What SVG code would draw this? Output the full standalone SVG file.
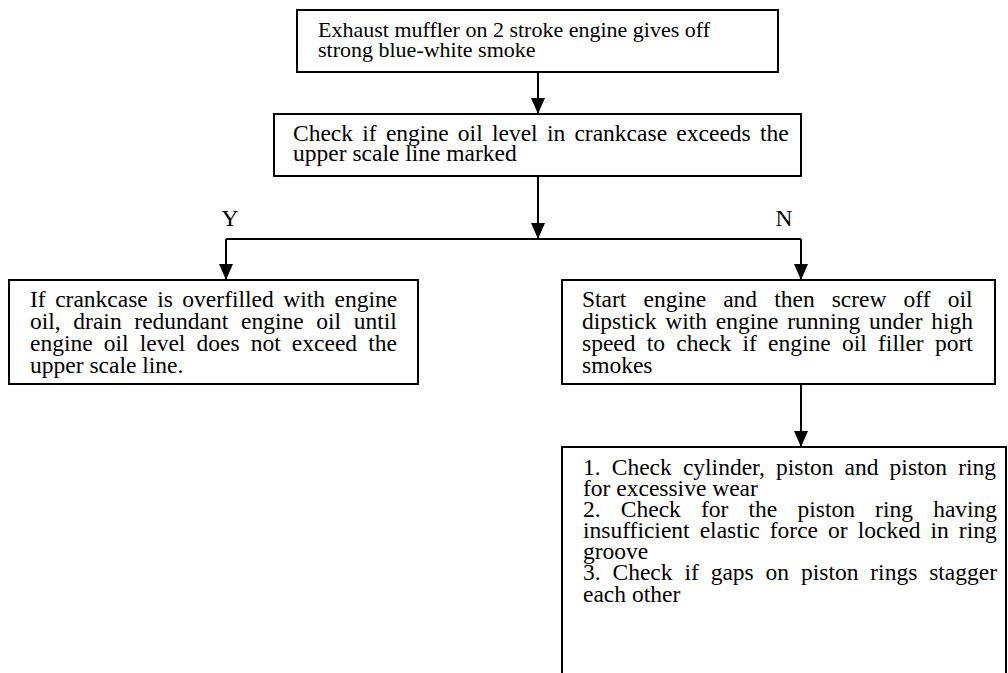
<svg xmlns="http://www.w3.org/2000/svg" width="1008" height="673" viewBox="0 0 1008 673">
<defs>
<marker id="arr" markerUnits="userSpaceOnUse" markerWidth="16" markerHeight="14" viewBox="0 0 16 14" refX="16" refY="7" orient="auto">
<path d="M0,0 L16,7 L0,14 Z" fill="#000"/>
</marker>
<style>
.box{fill:#fff;stroke:#000;stroke-width:2}
.t{font-family:"Liberation Serif","Times New Roman",serif;font-size:23.5px;fill:#000}
.c{stroke:#000;stroke-width:2;fill:none}
</style>
</defs>
<rect width="1008" height="673" fill="#fff"/>
<g id="connectors">
<path class="c" d="M538,72 V114" marker-end="url(#arr)"/>
<path class="c" d="M538,176 V239" marker-end="url(#arr)"/>
<path class="c" d="M226,239 H801"/>
<path class="c" d="M226,239 V280" marker-end="url(#arr)"/>
<path class="c" d="M801,239 V280" marker-end="url(#arr)"/>
<path class="c" d="M801,384 V447" marker-end="url(#arr)"/>
<text class="t" x="230" y="226" text-anchor="middle">Y</text>
<text class="t" x="784" y="226" text-anchor="middle">N</text>
</g>
<g id="n1">
<rect class="box" x="297" y="10" width="481" height="62"/>
<text class="t" style="font-size:22px"><tspan x="318" y="37">Exhaust muffler on 2 stroke engine gives off</tspan><tspan x="318" y="57">strong blue-white smoke</tspan></text>
</g>
<g id="n2">
<rect class="box" x="274" y="114" width="527" height="62"/>
<text class="t"><tspan x="293" y="141" word-spacing="3.4">Check if engine oil level in crankcase exceeds the</tspan><tspan x="293" y="161">upper scale line marked</tspan></text>
</g>
<g id="n3">
<rect class="box" x="9" y="280" width="409" height="104"/>
<text class="t"><tspan x="30" y="307" word-spacing="3.6">If crankcase is overfilled with engine</tspan><tspan x="30" y="329" word-spacing="6.8">oil, drain redundant engine oil until</tspan><tspan x="30" y="351" word-spacing="5.25">engine oil level does not exceed the</tspan><tspan x="30" y="373">upper scale line.</tspan></text>
</g>
<g id="n4">
<rect class="box" x="562" y="280" width="433" height="104"/>
<text class="t"><tspan x="582" y="307" word-spacing="11.2">Start engine and then screw off oil</tspan><tspan x="582" y="329" word-spacing="2.9">dipstick with engine running under high</tspan><tspan x="582" y="351" word-spacing="5.4">speed to check if engine oil filler port</tspan><tspan x="582" y="373">smokes</tspan></text>
</g>
<g id="n5">
<rect class="box" x="562" y="447" width="444" height="240"/>
<text class="t"><tspan x="583" y="475" word-spacing="5.25">1. Check cylinder, piston and piston ring</tspan><tspan x="583" y="496">for excessive wear</tspan><tspan x="583" y="517" word-spacing="14.3">2. Check for the piston ring having</tspan><tspan x="583" y="538" word-spacing="4.2">insufficient elastic force or locked in ring</tspan><tspan x="583" y="559">groove</tspan><tspan x="583" y="580" word-spacing="6">3. Check if gaps on piston rings stagger</tspan><tspan x="583" y="602">each other</tspan></text>
</g>
</svg>
